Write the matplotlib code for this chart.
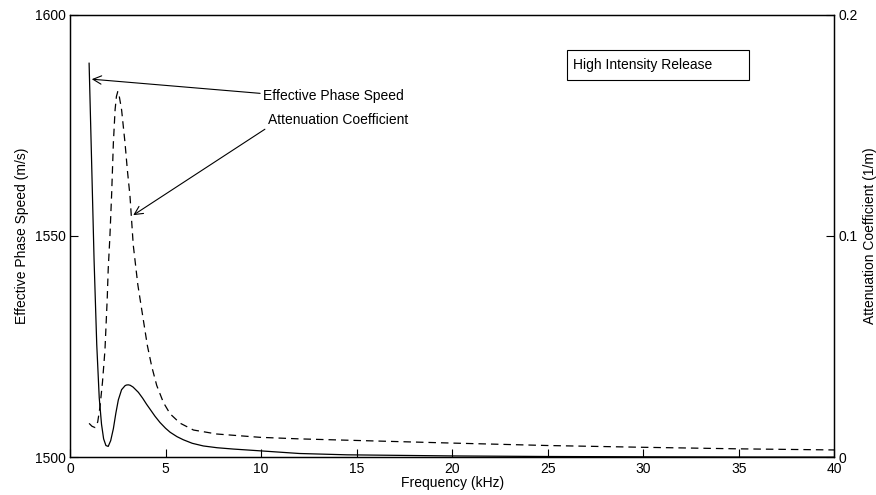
"""Effective phase speed and attenuation vs frequency (high intensity release)."""

import matplotlib
matplotlib.use("Agg")
import matplotlib.pyplot as plt
from matplotlib.patches import Rectangle

plt.rcParams["font.family"] = ["Liberation Sans", "DejaVu Sans"]
plt.rcParams["font.size"] = 10

# values
speed_freq = [1.0, 1.13, 1.26, 1.4, 1.53, 1.65, 1.76, 1.88, 2.0, 2.13, 2.27, 2.4,
              2.53, 2.7, 2.88, 2.95, 3.05, 3.15, 3.3, 3.58, 3.8, 4.01, 4.19, 4.45,
              4.71, 5.0, 5.24, 5.6, 5.93, 6.4, 6.98, 7.7, 8.55, 9.95, 12.0, 14.5,
              20.0, 25.0, 30.0, 35.0, 40.0]
speed = [1589.0, 1567.0, 1544.6, 1525.5, 1513.5, 1507.5, 1504.2, 1502.7, 1502.5,
         1503.8, 1506.5, 1510.0, 1513.0, 1515.3, 1516.2, 1516.35, 1516.4, 1516.3,
         1515.9, 1514.7, 1513.4, 1512.0, 1510.9, 1509.3, 1507.9, 1506.6, 1505.7,
         1504.7, 1504.0, 1503.2, 1502.6, 1502.2, 1501.9, 1501.5, 1500.9, 1500.6,
         1500.35, 1500.22, 1500.15, 1500.1, 1500.08]

atten_freq = [1.0, 1.15, 1.31, 1.45, 1.57, 1.7, 1.83, 1.95, 2.0, 2.09, 2.18,
              2.27, 2.36, 2.43, 2.5, 2.58, 2.7, 2.88, 3.0, 3.14, 3.31, 3.55,
              3.84, 4.05, 4.28, 4.54, 4.89, 5.24, 5.76, 6.46, 7.68, 9.95, 12.0,
              14.5, 20.0, 25.0, 30.0, 35.0, 40.0]
atten = [0.0154, 0.0141, 0.0135, 0.0160, 0.0229, 0.0340, 0.0485, 0.0720, 0.0850,
         0.1000, 0.1190, 0.1420, 0.1570, 0.1630, 0.1652, 0.1630, 0.1570, 0.1420,
         0.1300, 0.1180, 0.0960, 0.0780, 0.0620, 0.0505, 0.0410, 0.0325, 0.0248,
         0.0197, 0.0155, 0.0124, 0.0106, 0.0091, 0.0084, 0.0078, 0.0065, 0.0054,
         0.0046, 0.0039, 0.0034]

x_ticks = [0, 5, 10, 15, 20, 25, 30, 35, 40]
speed_ticks = [1500, 1550, 1600]
atten_ticks = [0, 0.1, 0.2]


def main() -> None:
    fig = plt.figure(figsize=(8.76, 4.95), dpi=100)
    ax = fig.add_axes([0.0799, 0.0758, 0.8725, 0.8949])
    ax2 = ax.twinx()

    ax.plot(speed_freq, speed, color="black", linewidth=0.9)
    ax2.plot(atten_freq, atten, color="black", linewidth=0.9,
             linestyle=(0, (6, 4)))

    ax.set_xlim(0, 40)
    ax.set_ylim(1500, 1600)
    ax2.set_ylim(0, 0.2)
    ax.set_xticks(x_ticks)
    ax.set_yticks(speed_ticks)
    ax2.set_yticks(atten_ticks)
    ax2.set_yticklabels(["0", "0.1", "0.2"])

    ax.tick_params(direction="in", length=6, width=0.8, pad=3, labelsize=10)
    ax2.tick_params(direction="in", length=6, width=0.8, pad=3, labelsize=10)
    for a in (ax, ax2):
        for spine in a.spines.values():
            spine.set_linewidth(0.9)

    ax.set_xlabel("Frequency (kHz)", fontsize=10, labelpad=0)
    ax.set_ylabel("Effective Phase Speed (m/s)", fontsize=10, labelpad=4)
    ax2.set_ylabel("Attenuation Coefficient (1/m)", fontsize=10, labelpad=4)

    arrow = dict(arrowstyle="->", color="black", linewidth=0.8,
                 shrinkA=0, shrinkB=0, mutation_scale=15)
    ax.annotate("", xy=(1.14, 1585.4), xytext=(9.95, 1582.2), arrowprops=arrow)
    ax.text(10.1, 1581.7, "Effective Phase Speed", ha="left", va="center")
    ax.annotate("", xy=(3.31, 1554.7), xytext=(10.2, 1574.1), arrowprops=arrow)
    ax.text(10.37, 1576.2, "Attenuation Coefficient", ha="left", va="center")

    ax.add_patch(Rectangle((26.0, 1585.2), 9.55, 6.8, fill=False,
                           edgecolor="black", linewidth=0.8))
    ax.text(26.3, 1588.6, "High Intensity Release", ha="left", va="center")

    fig.savefig("out.png", dpi=100)
    plt.close(fig)


if __name__ == "__main__":
    main()
